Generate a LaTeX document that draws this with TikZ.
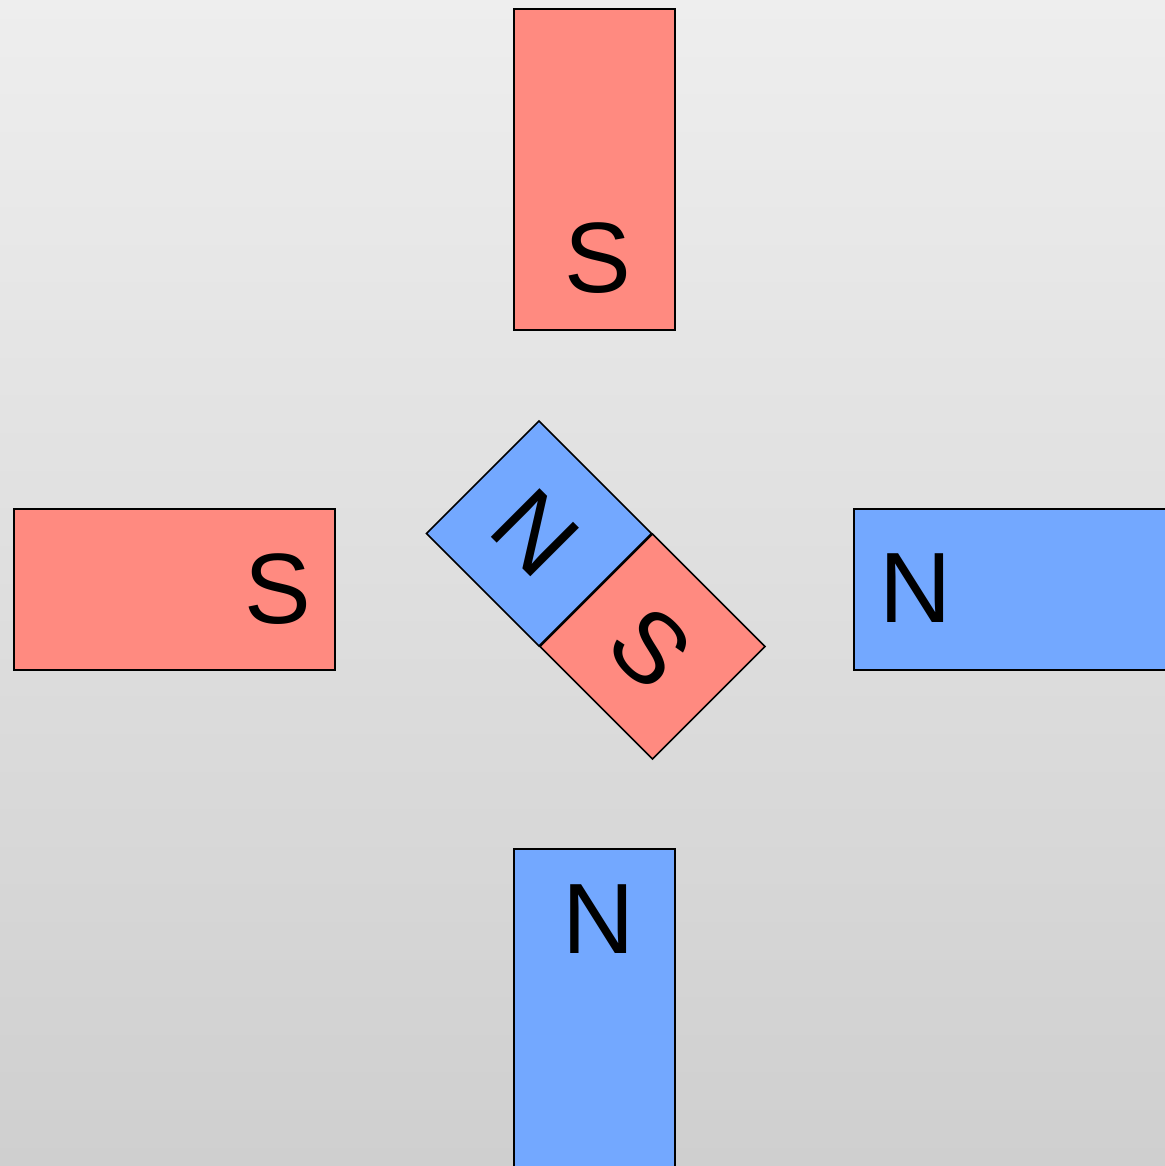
\documentclass[tikz,border=0pt]{standalone}
\usepackage{fontspec}
\setmainfont{Liberation Sans}
\definecolor{magred}{HTML}{FF8A80}
\definecolor{magblue}{HTML}{73A8FF}
\definecolor{bgtop}{HTML}{EEEEEE}
\definecolor{bgbottom}{HTML}{CFCFCF}
\begin{document}
\begin{tikzpicture}[x=0.5pt,y=-0.5pt,
  bar/.style={draw=black,line width=1pt,inner sep=0pt,outer sep=0pt},
  redbar/.style={bar,fill=magred},
  bluebar/.style={bar,fill=magblue},
  vbar/.style={minimum width=80.5pt,minimum height=160.5pt},
  hbar/.style={minimum width=160.5pt,minimum height=80.5pt},
  cube/.style={line width=0.8pt,minimum size=79.5pt,rotate=-45},
  pole/.style={font=\fontsize{50}{60}\selectfont,inner sep=0pt,text=black}]
\path[use as bounding box,top color=bgtop,bottom color=bgbottom] (0,0) rectangle (1165,1166);
\clip (0,0) rectangle (1165,1166);
% outer magnets
\node[redbar,vbar]  (top)    at (594.5,169.5) {};
\node[redbar,hbar]  (left)   at (174.5,589.5) {};
\node[bluebar,hbar] (right)  at (1014.5,589.5) {};
\node[bluebar,vbar] (bottom) at (594.5,1009.5) {};
% labels
\node[pole] (topS)    at (598,258) {S};
\node[pole] (leftS)   at (278,589) {S};
\node[pole] (rightN)  at (916,588) {N};
\node[pole] (bottomN) at (599,919) {N};
% central compass magnet
\node[bluebar,cube] (cN) at (539,533.5) {};
\node[redbar,cube]  (cS) at (652.5,646.5) {};
\node[pole,rotate=-45] (cNl) at (535,533) {N};
\node[pole,rotate=-45] (cSl) at (650,648) {S};
\end{tikzpicture}
\end{document}
